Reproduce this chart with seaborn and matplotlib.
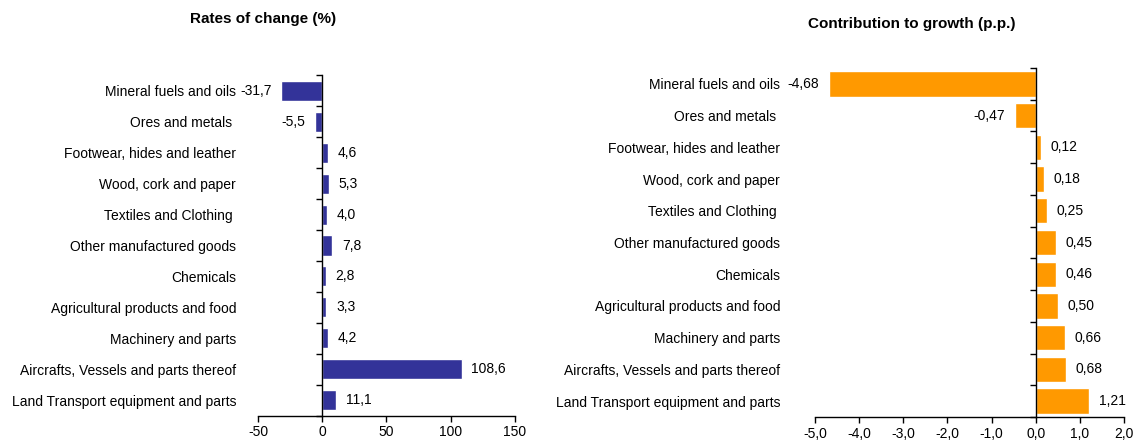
import matplotlib
matplotlib.use("Agg")
import matplotlib.pyplot as plt
import seaborn as sns
from matplotlib.ticker import FuncFormatter, FixedLocator

# data
categories = ["Mineral fuels and oils", "Ores and metals ", "Footwear, hides and leather",
              "Wood, cork and paper", "Textiles and Clothing ", "Other manufactured goods",
              "Chemicals", "Agricultural products and food", "Machinery and parts",
              "Aircrafts, Vessels and parts thereof", "Land Transport equipment and parts"]
rates = [-31.7, -5.5, 4.6, 5.3, 4.0, 7.8, 2.8, 3.3, 4.2, 108.6, 11.1]
contrib = [-4.68, -0.47, 0.12, 0.18, 0.25, 0.45, 0.46, 0.50, 0.66, 0.68, 1.21]

rate_ticks = [-50, 0, 50, 100, 150]
contrib_ticks = [-5, -4, -3, -2, -1, 0, 1, 2]

sns.set_style("white")
plt.rcParams['font.family'] = ['Liberation Sans', 'DejaVu Sans']
plt.rcParams['axes.unicode_minus'] = False

fig = plt.figure(figsize=(11.36, 4.48), dpi=100)
ax1 = fig.add_axes([0.2271, 0.0725, 0.2262, 0.759])
ax2 = fig.add_axes([0.7174, 0.0692, 0.272, 0.779])

FS = 10


def comma(v, dec):
    return f"{v:.{dec}f}".replace('.', ',')


def style_panel(ax, values, color, width, ticks, xlim, dec_tick, dec_lab, pad_lbl):
    sns.barplot(x=values, y=categories, orient='h', color=color, saturation=1,
                width=width, ax=ax)
    ax.set_xlim(*xlim)
    ax.set_ylim(len(categories) - 0.5, -0.5)
    ax.set_xlabel('')
    ax.set_ylabel('')
    for s in ['top', 'right']:
        ax.spines[s].set_visible(False)
    ax.spines['left'].set_position(('data', 0))
    ax.spines['left'].set_color('black')
    ax.spines['left'].set_linewidth(1.0)
    ax.spines['bottom'].set_color('black')
    ax.spines['bottom'].set_linewidth(1.0)
    ax.xaxis.set_major_locator(FixedLocator(ticks))
    ax.xaxis.set_major_formatter(FuncFormatter(lambda v, p: comma(v, dec_tick)))
    ax.tick_params(axis='x', direction='out', length=4, width=1, color='black',
                   labelsize=FS, labelcolor='black', pad=3, bottom=True)
    ax.tick_params(axis='y', which='major', length=0, labelsize=FS,
                   labelcolor='black', pad=pad_lbl)
    ax.yaxis.set_minor_locator(FixedLocator([i - 0.5 for i in range(len(categories) + 1)]))
    ax.tick_params(axis='y', which='minor', direction='out', length=4, width=1,
                   color='black', left=True)
    ax.bar_label(ax.containers[0], labels=[comma(v, dec_lab) for v in values],
                 padding=7, fontsize=FS, color='black')


style_panel(ax1, rates, '#333399', 0.65, rate_ticks, (-50, 150), 0, 1, 62)
style_panel(ax2, contrib, '#FF9900', 0.8, contrib_ticks, (-5, 2), 1, 2, 184)

fig.text(0.2315, 0.958, 'Rates of change (%)', ha='center', va='center',
         fontsize=11, fontweight='bold', color='black')
fig.text(0.803, 0.947, 'Contribution to growth (p.p.)', ha='center', va='center',
         fontsize=11, fontweight='bold', color='black')

fig.savefig('out.png', dpi=100)
